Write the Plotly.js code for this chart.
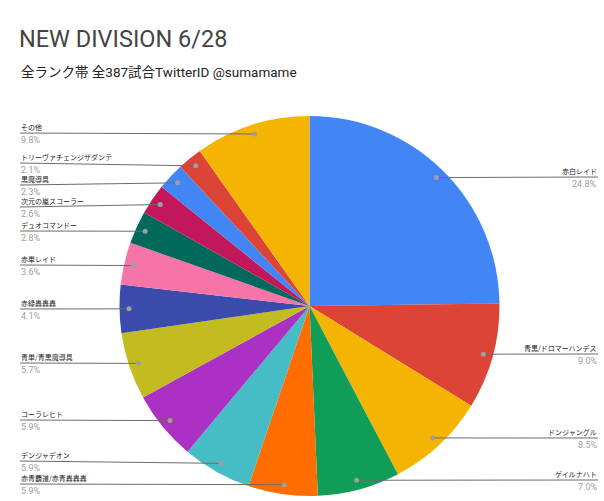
<!DOCTYPE html>
<html>
<head>
<meta charset="utf-8">
<script src="https://cdn.plot.ly/plotly-3.0.1.min.js"></script>
<style>html,body{margin:0;padding:0;background:#fff;}#chart{width:604px;height:501px;}</style>
</head>
<body>
<div id="chart"></div>
<script>
// ---- data ----
const categories = ["赤白レイド","青黒/ドロマーハンデス","ドンジャングル","ゲイルナハト","赤青覇道/赤青轟轟轟","デンジャデオン","コーラレヒト","青単/青黒魔導具","赤緑轟轟轟","赤単レイド","デュオコマンドー","次元の嵐スコーラー","黒魔導具","トリーヴァチェンジザダンテ","その他"];
const shares = [24.8, 9.0, 8.5, 7.0, 5.9, 5.9, 5.9, 5.7, 4.1, 3.6, 2.8, 2.6, 2.3, 2.1, 9.8];
const sliceColors = ["#4285F4","#DB4437","#F4B400","#0F9D58","#FF6D00","#46BDC6","#AB30C4","#C2BC20","#3B4BAB","#F774A8","#00695C","#C2185B","#4285F4","#DB4437","#F4B400"];

// ---- layout constants (pixels) ----
const W = 604, H = 501;
const CX = 309.5, CY = 306, R = 190;
const labelRowY = [177, 354, 438, 480, 484, 461, 420, 363, 309, 265, 231, 207, 185, 163, 133];
const px = x => x / W;
const py = y => 1 - y / H;

const total = shares.reduce((a, b) => a + b, 0);
const shapes = [], annotations = [];
let cum = 0;
shares.forEach((v, i) => {
  const a = (cum + v / 2) / total * 2 * Math.PI;
  cum += v;
  const dx = Math.sin(a) * R * 0.95, dy = -Math.cos(a) * R * 0.95;
  const dotX = CX + dx, dotY = CY + dy;
  const right = dx >= 0;
  const ly = labelRowY[i];
  const edgeX = right ? 598 : 20;
  shapes.push({type: 'line', xref: 'paper', yref: 'paper',
    x0: px(edgeX), y0: py(ly), x1: px(dotX), y1: py(dotY),
    line: {color: '#6b6b6b', width: 1}});
  const rr = 2.5;
  shapes.push({type: 'circle', xref: 'paper', yref: 'paper',
    x0: px(dotX - rr), x1: px(dotX + rr), y0: py(dotY + rr), y1: py(dotY - rr),
    fillcolor: '#9e9e9e', line: {width: 0}});
  annotations.push({xref: 'paper', yref: 'paper', x: px(edgeX), y: py(ly - 6),
    xanchor: right ? 'right' : 'left', yanchor: 'middle', showarrow: false, borderpad: 0,
    text: categories[i], font: {family: 'Noto Sans CJK JP, sans-serif', size: 7, color: '#222'}});
  annotations.push({xref: 'paper', yref: 'paper', x: px(edgeX), y: py(ly + 7),
    xanchor: right ? 'right' : 'left', yanchor: 'middle', showarrow: false, borderpad: 0,
    text: v.toFixed(1) + '%', font: {family: 'Roboto, sans-serif', size: 9, color: '#9e9e9e'}});
});

annotations.push({xref: 'paper', yref: 'paper', x: px(19), y: py(72), xanchor: 'left', yanchor: 'middle',
  showarrow: false, text: '全ランク帯 全387試合TwitterID @sumamame',
  font: {family: 'Roboto, Noto Sans CJK JP, sans-serif', size: 13.5, color: '#222'}});

const trace = {
  type: 'pie',
  labels: categories,
  values: shares,
  sort: false,
  direction: 'clockwise',
  rotation: 0,
  textinfo: 'none',
  hoverinfo: 'label+percent',
  marker: {colors: sliceColors, line: {width: 0}},
  domain: {x: [px(CX - R), px(CX + R)], y: [py(CY + R), py(CY - R)]},
  showlegend: false
};

const layout = {
  width: W, height: H,
  margin: {l: 0, r: 0, t: 0, b: 0},
  paper_bgcolor: '#fff',
  showlegend: false,
  title: {text: 'NEW DIVISION 6/28', x: px(19), xanchor: 'left', xref: 'paper',
    y: py(39), yanchor: 'middle', yref: 'paper',
    font: {family: 'Roboto, sans-serif', size: 23.5, color: '#444'}},
  shapes: shapes,
  annotations: annotations
};

Plotly.newPlot('chart', [trace], layout, {displayModeBar: false, staticPlot: true});
</script>
</body>
</html>
